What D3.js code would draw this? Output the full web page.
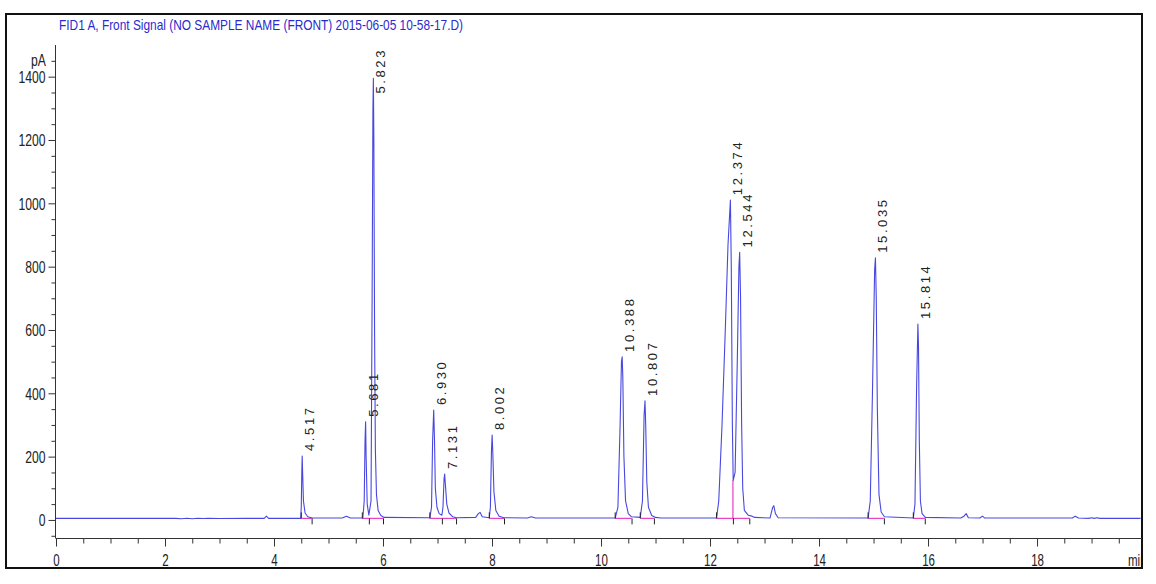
<!DOCTYPE html>
<html>
<head>
<meta charset="utf-8">
<script src="https://cdn.jsdelivr.net/npm/d3@7"></script>
<style>
  html, body { margin: 0; padding: 0; background: #fff; }
  svg { display: block; }
  text { font-family: "Liberation Sans", Arial, sans-serif; }
</style>
</head>
<body>
<svg id="chart" width="1156" height="584"></svg>
<script>
// ---------- data ----------
const title = "FID1 A, Front Signal (NO SAMPLE NAME (FRONT) 2015-06-05 10-58-17.D)";
const yUnit = "pA";
const xUnit = "min";
const yTickValues = [0, 200, 400, 600, 800, 1000, 1200, 1400];
const xTickValues = [0, 2, 4, 6, 8, 10, 12, 14, 16, 18];

// detector trace: [time (min), signal (pA)]
const trace = [
  [0,5],[2.2,5],[2.3,4],[2.4,5.5],[2.5,4],[2.6,5.5],[2.7,4.5],[2.8,5],[3.0,4.5],[3.5,5],
  [3.82,5],[3.86,12],[3.9,5],[4.49,5],
  [4.50,40],[4.51,150],[4.517,202],[4.525,150],[4.54,60],[4.57,22],[4.62,10],[4.70,6],
  [5.25,6],[5.33,12],[5.40,6],[5.63,6],
  [5.655,60],[5.67,250],[5.681,310],[5.69,200],[5.71,50],[5.74,15],
  [5.78,60],[5.80,700],[5.815,1300],[5.823,1395],[5.832,1200],[5.845,600],[5.86,220],[5.88,80],[5.91,30],[5.96,14],[6.02,8],
  [6.86,7],
  [6.89,40],[6.91,250],[6.930,347],[6.945,250],[6.96,100],[6.99,40],[7.03,20],[7.08,15],
  [7.10,40],[7.12,130],[7.131,145],[7.145,110],[7.17,50],[7.21,22],[7.28,10],[7.35,7],
  [7.70,8],[7.75,20],[7.78,24],[7.82,10],[7.95,7],
  [7.97,40],[7.99,220],[8.002,268],[8.015,210],[8.035,90],[8.07,30],[8.13,12],[8.22,7],
  [8.65,6],[8.72,10],[8.8,6],[10.26,6],
  [10.31,40],[10.35,300],[10.375,500],[10.388,515],[10.40,450],[10.42,200],[10.45,60],[10.50,20],[10.56,10],
  [10.72,8],
  [10.76,60],[10.79,330],[10.807,376],[10.82,300],[10.84,120],[10.87,40],[10.93,14],[11.0,8],[11.1,6],
  [12.12,6],
  [12.16,60],[12.22,300],[12.28,600],[12.33,870],[12.374,1010],[12.39,800],[12.41,300],[12.425,125],
  [12.46,150],[12.50,500],[12.53,800],[12.544,845],[12.56,700],[12.58,300],[12.60,100],[12.63,30],[12.70,15],[12.77,12],[12.82,8],
  [13.10,6],[13.15,40],[13.17,45],[13.20,20],[13.25,7],
  [14.90,6],
  [14.94,60],[14.98,400],[15.02,790],[15.035,828],[15.05,700],[15.07,350],[15.10,80],[15.14,25],[15.20,10],
  [15.73,6],
  [15.76,50],[15.79,420],[15.814,619],[15.825,550],[15.84,250],[15.86,60],[15.89,20],[15.95,8],
  [16.60,6],[16.66,12],[16.70,20],[16.74,7],[16.95,6],[17.0,12],[17.04,6],
  [18.65,6],[18.70,12],[18.76,6],[18.95,5],[19.0,7],[19.05,5],[19.1,7],[19.15,5],[19.9,5]
];

// integrated peaks
const peakRT    = [4.517, 5.681, 5.823, 6.930, 7.131, 8.002, 10.388, 10.807, 12.374, 12.544, 15.035, 15.814];
const peakApex  = [202, 310, 1395, 347, 145, 268, 515, 376, 1010, 845, 828, 619];
const peakStart = [4.50, 5.62, 5.74, 6.86, 7.08, 7.95, 10.26, 10.72, 12.12, 12.42, 14.90, 15.73];
const peakEnd   = [4.69, 5.74, 6.00, 7.08, 7.34, 8.22, 10.56, 10.97, 12.42, 12.72, 15.19, 15.94];
const startMark = [true, true, false, true, false, true, true, true, true, false, true, true];
const baselineLevel = 5;
const dropLines = [[12.42, 125]];

// ---------- drawing ----------
const svg = d3.select("#chart");
const frame = {left: 6, top: 14, right: 1142, bottom: 568};
const x = d3.scaleLinear().domain([0, 19.9]).range([56, 1140.6]);
const y = d3.scaleLinear().domain([-57, 1500]).range([538, 45]);
const axisColor = "#333";

// narrow the glyphs horizontally (the reference uses a condensed face)
function condense(sel, ratio) {
  sel.each(function () {
    const len = this.getComputedTextLength();
    if (len > 0) {
      d3.select(this).attr("textLength", len * ratio).attr("lengthAdjust", "spacingAndGlyphs");
    }
  });
}

// frame
svg.append("rect")
  .attr("x", frame.left).attr("y", frame.top)
  .attr("width", frame.right - frame.left).attr("height", frame.bottom - frame.top)
  .attr("fill", "none").attr("stroke", "#111").attr("stroke-width", 2);

svg.append("defs").append("clipPath").attr("id", "clipFrame")
  .append("rect").attr("x", frame.left).attr("y", frame.top)
  .attr("width", frame.right - frame.left - 1).attr("height", frame.bottom - frame.top);

// title
svg.append("text").attr("x", 59).attr("y", 30)
  .attr("font-size", 15).attr("fill", "#2a2ad0")
  .attr("textLength", 404).attr("lengthAdjust", "spacingAndGlyphs")
  .text(title);

// y axis
const yAxis = d3.axisLeft(y).tickValues(yTickValues).tickSize(7).tickPadding(3).tickFormat(d3.format("d"));
const gy = svg.append("g").attr("transform", `translate(${x(0) - 0.5},0)`).call(yAxis);
gy.select(".domain").remove();
gy.selectAll("line").attr("stroke", axisColor);
gy.selectAll("text").attr("font-size", 16).attr("fill", "#222")
  .style("font-family", '"Liberation Sans", Arial, sans-serif').attr("dy", "0.36em");
condense(gy.selectAll("text"), 0.76);
const yMinor = d3.range(-50, 1451, 50).filter(v => !yTickValues.includes(v));
const gym = svg.append("g").attr("transform", `translate(${x(0) - 0.5},0)`)
  .call(d3.axisLeft(y).tickValues(yMinor).tickSize(4).tickFormat(""));
gym.select(".domain").remove();
gym.selectAll("line").attr("stroke", axisColor);
svg.append("line").attr("x1", x(0) - 0.5).attr("x2", x(0) - 0.5)
  .attr("y1", y(1500)).attr("y2", y(-57)).attr("stroke", axisColor);
const unitY = svg.append("text").attr("x", 46).attr("y", y(1450) + 5).attr("text-anchor", "end")
  .attr("font-size", 16).attr("fill", "#222").text(yUnit);
condense(unitY, 0.76);

// x axis
const xAxisY = y(-57) + 0.5;
const gx = svg.append("g").attr("transform", `translate(0,${xAxisY})`)
  .call(d3.axisBottom(x).tickValues(xTickValues).tickSize(8).tickPadding(8).tickFormat(d3.format("d")));
gx.select(".domain").remove();
gx.selectAll("line").attr("stroke", axisColor);
gx.selectAll("text").attr("font-size", 16).attr("fill", "#222")
  .style("font-family", '"Liberation Sans", Arial, sans-serif');
condense(gx.selectAll("text"), 0.72);
const xMinor = d3.range(0.5, 19.9, 0.5).filter(v => !xTickValues.includes(v));
const gxm = svg.append("g").attr("transform", `translate(0,${xAxisY})`)
  .call(d3.axisBottom(x).tickValues(xMinor).tickSize(5).tickFormat(""));
gxm.select(".domain").remove();
gxm.selectAll("line").attr("stroke", axisColor);
svg.append("line").attr("x1", x(0) - 0.5).attr("x2", frame.right)
  .attr("y1", xAxisY).attr("y2", xAxisY).attr("stroke", axisColor);
const unitX = svg.append("g").attr("clip-path", "url(#clipFrame)")
  .append("text").attr("x", 1128).attr("y", 566)
  .attr("font-size", 16).attr("fill", "#222").text(xUnit);
condense(unitX, 0.72);

// integration baselines
const plot = svg.append("g").attr("clip-path", "url(#clipFrame)");
const yb = y(baselineLevel);
peakRT.forEach((rt, i) => {
  plot.append("line").attr("x1", x(peakStart[i])).attr("x2", x(peakEnd[i]))
    .attr("y1", yb).attr("y2", yb).attr("stroke", "#e83cc8").attr("stroke-width", 1.2);
});
dropLines.forEach(([t, v]) => {
  plot.append("line").attr("x1", x(t)).attr("x2", x(t))
    .attr("y1", yb).attr("y2", y(v)).attr("stroke", "#e83cc8").attr("stroke-width", 1.2);
});

// trace
const line = d3.line().x(d => x(d[0])).y(d => y(d[1]));
plot.append("path").datum(trace).attr("d", line)
  .attr("fill", "none").attr("stroke", "#4848e0").attr("stroke-width", 1.1)
  .attr("stroke-linejoin", "round");

// start/end markers
peakRT.forEach((rt, i) => {
  if (startMark[i]) {
    plot.append("line").attr("x1", x(peakStart[i])).attr("x2", x(peakStart[i]))
      .attr("y1", yb).attr("y2", yb - 6).attr("stroke", "#222");
  }
  plot.append("line").attr("x1", x(peakEnd[i]) + 0.5).attr("x2", x(peakEnd[i]) + 0.5)
    .attr("y1", yb).attr("y2", yb + 6).attr("stroke", "#222");
});

// peak labels
const labels = svg.append("g");
peakRT.forEach((rt, i) => {
  const t = labels.append("text")
    .attr("font-size", 13).attr("fill", "#222")
    .attr("letter-spacing", "2.6px")
    .text(rt.toFixed(3));
  const len = t.node().getComputedTextLength();
  const bottom = Math.max(y(peakApex[i]) - 5, 48 + len);
  t.attr("transform", `translate(${x(rt) + 12},${bottom}) rotate(-90)`);
});
</script>
</body>
</html>
